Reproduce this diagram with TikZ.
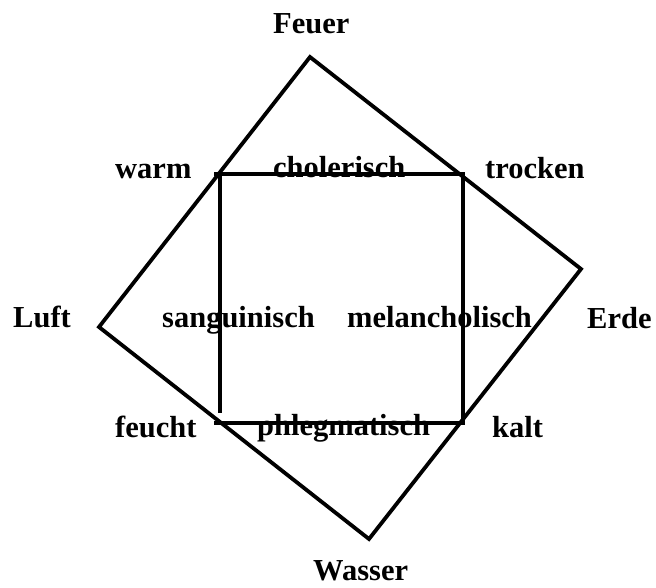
\documentclass[tikz,border=0pt]{standalone}
\usepackage{fontspec}
\setmainfont{Liberation Serif}
\begin{document}
\begin{tikzpicture}[x=1pt,y=-1pt,
  lbl/.style={anchor=base west,inner sep=0pt,font=\fontsize{30.5}{36}\selectfont\bfseries},
  edge/.style={line width=3.8pt,line join=miter,line cap=butt}]
\useasboundingbox (0,0) rectangle (656,587);
% outer tilted square
\coordinate (F) at (310,57);
\coordinate (E) at (581,269);
\coordinate (W) at (369,539);
\coordinate (L) at (99,327);
\draw[edge] (F) -- (E) -- (W) -- (L) -- cycle;
% inner square
\coordinate (tl) at (214,174);
\coordinate (tr) at (465,174);
\coordinate (lt) at (220,174);
\coordinate (lb) at (220,413);
\coordinate (rt) at (463,174);
\coordinate (rb) at (463,422);
\coordinate (bl) at (214,423);
\coordinate (br) at (465,423);
\draw[edge] (tl) -- (tr);
\draw[edge] (lt) -- (lb);
\draw[edge] (rt) -- (rb);
\draw[edge] (bl) -- (br);
% labels
\node[lbl] (feuer) at (273,33) {Feuer};
\node[lbl] (wasser) at (313,580) {Wasser};
\node[lbl] (luft) at (13,327) {Luft};
\node[lbl] (erde) at (587,328) {Erde};
\node[lbl] (warm) at (115,178) {warm};
\node[lbl] (trocken) at (485,178) {trocken};
\node[lbl] (feucht) at (115,437) {feucht};
\node[lbl] (kalt) at (492,437) {kalt};
\node[lbl] (chol) at (273,177) {cholerisch};
\node[lbl] (phleg) at (257,435) {phlegmatisch};
\node[lbl] (sang) at (162,327) {sanguinisch};
\node[lbl] (mel) at (347,327) {melancholisch};
\end{tikzpicture}
\end{document}
